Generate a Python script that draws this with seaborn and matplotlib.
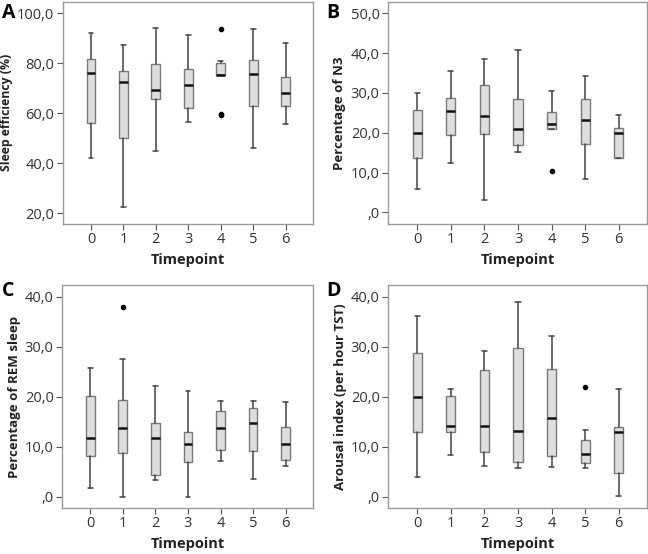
import numpy as np
import seaborn as sns
import matplotlib.pyplot as plt
from matplotlib.ticker import FuncFormatter

timepoints = [0, 1, 2, 3, 4, 5, 6]

# A - sleep efficiency (%)
a_lo = [42.3, 22.4, 45.1, 56.4, 75.5, 46.3, 55.7]
a_q1 = [56.0, 50.1, 65.6, 62.1, 75.5, 62.9, 63.1]
a_med = [76.3, 72.4, 69.3, 71.3, 75.5, 75.9, 68.0]
a_q3 = [81.9, 76.9, 79.7, 77.9, 80.3, 81.2, 74.5]
a_hi = [92.3, 87.3, 94.1, 91.3, 81.0, 93.7, 88.1]
a_out = [[], [], [], [], [93.7, 59.7, 59.3], [], []]

# B - percentage of N3
b_lo = [5.9, 12.5, 3.2, 15.1, 21.0, 8.3, 13.7]
b_q1 = [13.6, 19.4, 19.6, 16.9, 21.0, 17.2, 13.7]
b_med = [19.9, 25.5, 24.2, 20.9, 22.1, 23.2, 19.9]
b_q3 = [25.7, 28.7, 32.0, 28.4, 25.3, 28.5, 21.1]
b_hi = [30.1, 35.4, 38.5, 40.8, 30.5, 34.3, 24.5]
b_out = [[], [], [], [], [10.4], [], []]

# C - percentage of REM sleep
c_lo = [1.8, 0.0, 3.4, 0.0, 7.1, 3.6, 6.1]
c_q1 = [8.1, 8.7, 4.3, 6.9, 9.4, 9.2, 7.3]
c_med = [11.7, 13.7, 11.7, 10.5, 13.7, 14.8, 10.5]
c_q3 = [20.1, 19.3, 14.8, 13.0, 17.2, 17.7, 13.9]
c_hi = [25.8, 27.6, 22.1, 21.2, 19.1, 19.1, 18.9]
c_out = [[], [38.0], [], [], [], [], []]

# D - arousal index (per hour TST)
d_lo = [4.0, 8.4, 6.2, 5.8, 5.9, 5.8, 0.1]
d_q1 = [12.9, 13.0, 9.0, 6.9, 8.1, 6.7, 4.8]
d_med = [20.0, 14.2, 14.1, 13.2, 15.7, 8.5, 12.9]
d_q3 = [28.7, 20.2, 25.3, 29.7, 25.5, 11.3, 14.0]
d_hi = [36.1, 21.6, 29.1, 38.9, 32.1, 13.3, 21.6]
d_out = [[], [], [], [], [], [21.9], []]

sns.set_theme(style="white")
plt.rcParams['font.family'] = ['Open Sans', 'DejaVu Sans']

fig = plt.figure(figsize=(6.48, 5.54), dpi=100)
W, H = 648, 554


def add_ax(l, t, r, b):
    return fig.add_axes([l / W, 1 - b / H, (r - l) / W, (b - t) / H])


def fmt(v, pos):
    s = f"{v:.1f}".replace('.', ',')
    if s.startswith('0,'):
        s = s[1:]
    return s


def panel(ax, lo, q1, med, q3, hi, out, ylabel, ylim, yticks, ysize=9.5):
    stats = []
    for i in range(len(timepoints)):
        stats.append(dict(whislo=lo[i], q1=q1[i], med=med[i], q3=q3[i],
                          whishi=hi[i], fliers=out[i]))
    ax.bxp(stats, positions=timepoints, widths=0.27, patch_artist=True,
           boxprops=dict(facecolor='#dedede', edgecolor='#7a7a7a', linewidth=1),
           medianprops=dict(color='#111111', linewidth=1.8),
           whiskerprops=dict(color='#444444', linewidth=1.1),
           capprops=dict(color='#444444', linewidth=1.1),
           capwidths=0.15,
           flierprops=dict(marker='o', markersize=3, markerfacecolor='black',
                           markeredgecolor='black'))
    ax.set_xlim(-0.87, 6.84)
    ax.set_ylim(*ylim)
    ax.set_yticks(yticks)
    ax.set_xticks(timepoints)
    ax.set_xticklabels([str(t) for t in timepoints])
    ax.yaxis.set_major_formatter(FuncFormatter(fmt))
    ax.tick_params(axis='both', direction='out', length=4, width=0.8,
                   color='#555555', labelsize=10.5, labelcolor='#333333',
                   left=True, bottom=True, pad=2)
    for sp in ax.spines.values():
        sp.set_color('#999999')
        sp.set_linewidth(1)
    ax.set_xlabel('Timepoint', fontsize=10.5, fontweight='bold', color='#222222', labelpad=4)
    ax.set_ylabel(ylabel, fontsize=ysize, fontweight='bold', color='#222222', labelpad=3)
    return ax


ax_a = add_ax(62.7, 1.7, 313, 224)
panel(ax_a, a_lo, a_q1, a_med, a_q3, a_hi, a_out, 'Sleep efficiency (%)',
      (15.7, 104.7), [20, 40, 60, 80, 100], ysize=8.8)
ax_b = add_ax(388, 1.7, 647, 224)
panel(ax_b, b_lo, b_q1, b_med, b_q3, b_hi, b_out, 'Percentage of N3',
      (-2.9, 52.9), [0, 10, 20, 30, 40, 50])
ax_c = add_ax(62, 285.3, 313, 508)
panel(ax_c, c_lo, c_q1, c_med, c_q3, c_hi, c_out, 'Percentage of REM sleep',
      (-2.2, 42.3), [0, 10, 20, 30, 40])
ax_d = add_ax(388, 285.3, 647, 508)
panel(ax_d, d_lo, d_q1, d_med, d_q3, d_hi, d_out, 'Arousal index (per hour TST)',
      (-2.2, 42.3), [0, 10, 20, 30, 40])

for letter, x, y in [('A', 2, 13), ('B', 326, 13), ('C', 2, 291), ('D', 326, 291)]:
    fig.text(x / W, 1 - y / H, letter, fontsize=14, fontweight='bold',
             color='black', ha='left', va='center')

fig.savefig('out.png', dpi=100)
